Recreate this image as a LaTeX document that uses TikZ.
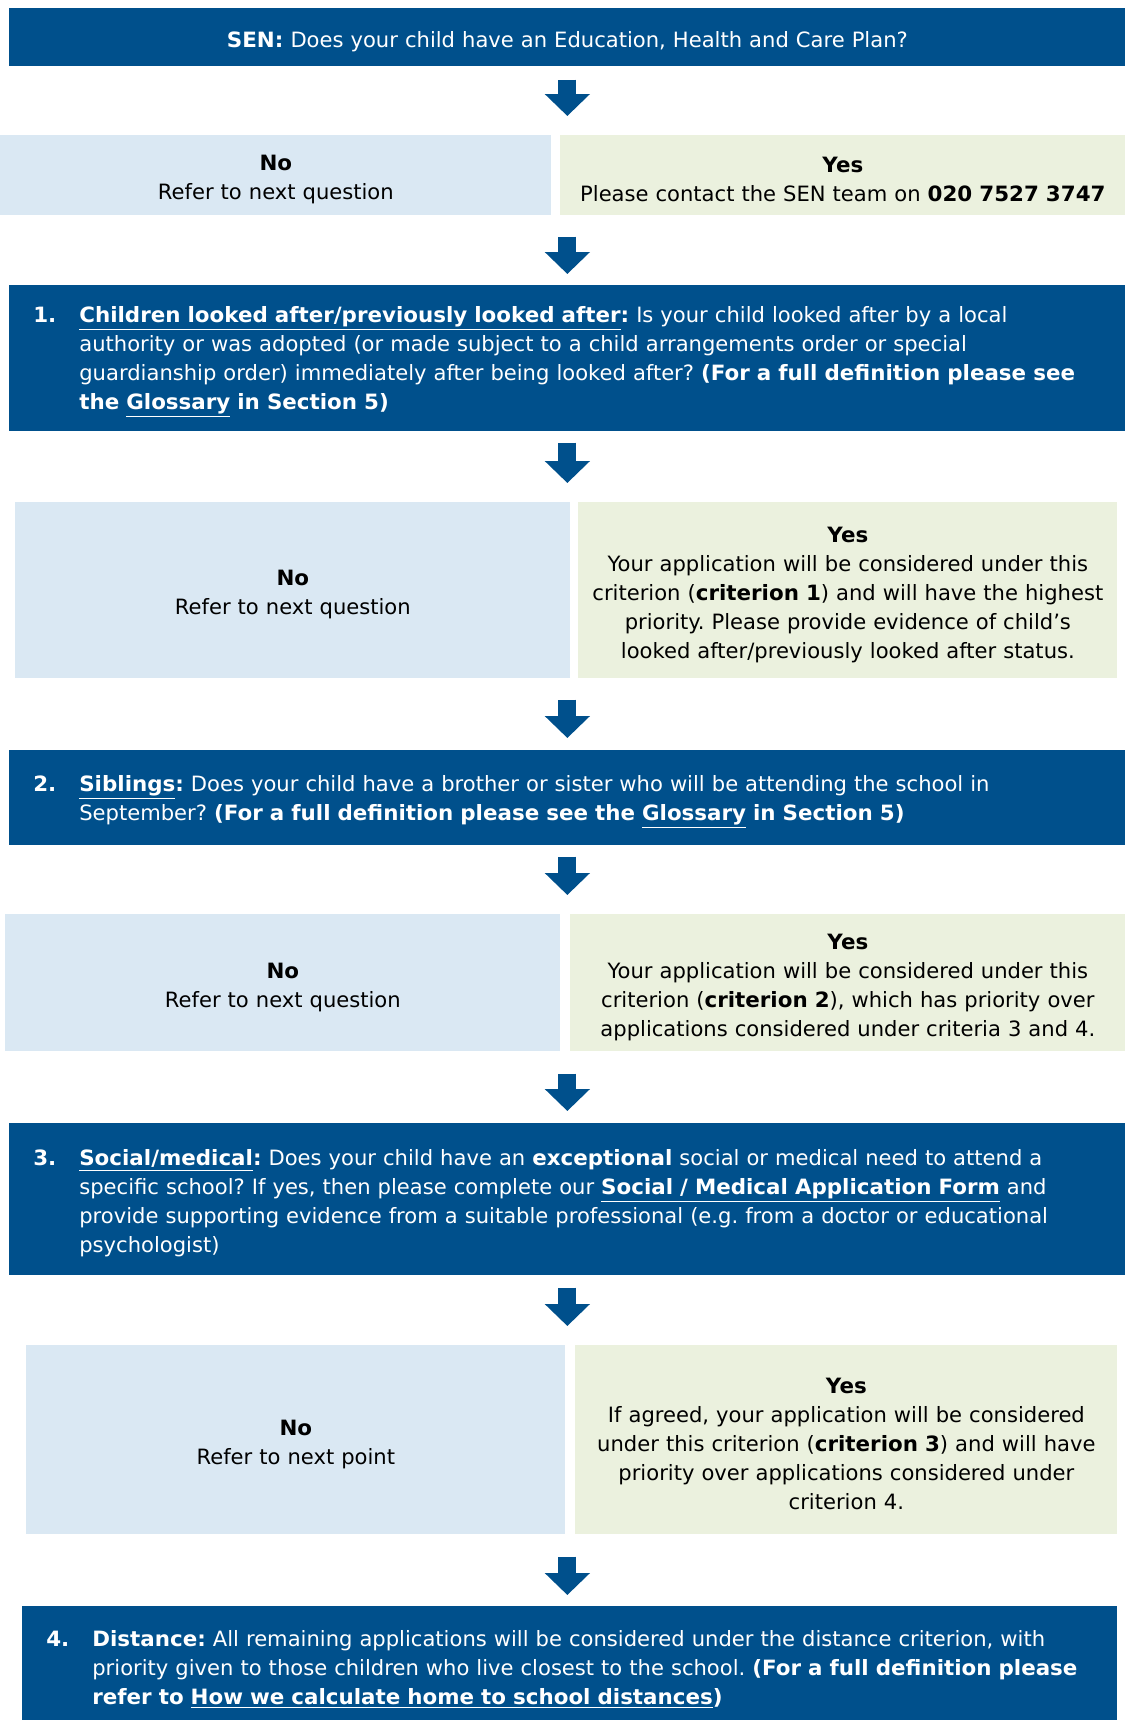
\documentclass[tikz,border=0pt]{standalone}
\usepackage{fontspec}
\setmainfont{DejaVu Sans}[BoldFeatures={FakeStretch=1.015}]
\usetikzlibrary{arrows.meta}

\definecolor{senblue}{RGB}{0,80,140}
\definecolor{nofill}{RGB}{218,232,243}
\definecolor{yesfill}{RGB}{235,241,222}
\newlength{\pxu}
\setlength{\pxu}{0.02cm}

\begin{document}
\begin{tikzpicture}[x=\pxu, y=-\pxu,
    font=\fontsize{12pt}{16.5pt}\selectfont\frenchspacing,
    qbox/.style={fill=senblue, text=white, anchor=north west, align=left, inner xsep=24\pxu, inner ysep=0pt, execute at begin node={\rule{0pt}{13.5pt}}},
    nobox/.style={fill=nofill, anchor=north west, align=center, inner xsep=4\pxu, inner ysep=0pt, execute at begin node={\rule{0pt}{13.5pt}}},
    yesbox/.style={fill=yesfill, anchor=north west, align=center, inner xsep=4\pxu, inner ysep=0pt, execute at begin node={\rule{0pt}{13.5pt}}},
    flow/.style={draw=senblue, line width=0.36cm, -{Triangle[length=0.44cm, width=0.88cm]}}]
    \useasboundingbox (0,0) rectangle (1126,1720);

    % SEN
    \node[qbox, align=center, text width=1068\pxu, minimum width=1116\pxu, minimum height=58\pxu] (sen) at (9,8)
        {\textbf{SEN:} Does your child have an Education, Health and Care Plan?};
    \node[nobox, text width=543\pxu, minimum width=551\pxu, minimum height=80\pxu] (no0) at (0,135)
        {\textbf{No}\\Refer to next question};
    \node[yesbox, text width=557\pxu, minimum width=565\pxu, minimum height=80\pxu] (yes0) at (560,135)
        {\textbf{Yes}\\Please contact the SEN team on \textbf{020 7527 3747}};

    % 1. looked after
    \node[qbox, text width=1068\pxu, minimum width=1116\pxu, minimum height=146\pxu] (q1) at (9,285)
        {\noindent\hangindent=46\pxu\hangafter=1\makebox[46\pxu][l]{\textbf{1.}}\textbf{\underline{Children looked after/previously looked after}:} Is your child looked after by a local\newline
        authority or was adopted (or made subject to a child arrangements order or special\newline
        guardianship order) immediately after being looked after? \textbf{(For a full definition please see}\newline
        \textbf{the \underline{Glossary} in Section 5)}\par};
    \node[nobox, text width=547\pxu, minimum width=555\pxu, minimum height=176\pxu] (no1) at (15,502)
        {\textbf{No}\\Refer to next question};
    \node[yesbox, text width=531\pxu, minimum width=539\pxu, minimum height=176\pxu] (yes1) at (578,502)
        {\textbf{Yes}\\Your application will be considered under this\\criterion (\textbf{criterion 1}) and will have the highest\\priority. Please provide evidence of child’s\\looked after/previously looked after status.};

    % 2. siblings
    \node[qbox, text width=1068\pxu, minimum width=1116\pxu, minimum height=95\pxu] (q2) at (9,750)
        {\noindent\hangindent=46\pxu\hangafter=1\makebox[46\pxu][l]{\textbf{2.}}\textbf{\underline{Siblings}:} Does your child have a brother or sister who will be attending the school in\newline
        September? \textbf{(For a full definition please see the \underline{Glossary} in Section 5)}\par};
    \node[nobox, text width=547\pxu, minimum width=555\pxu, minimum height=137\pxu] (no2) at (5,914)
        {\textbf{No}\\Refer to next question};
    \node[yesbox, text width=547\pxu, minimum width=555\pxu, minimum height=137\pxu] (yes2) at (570,914)
        {\textbf{Yes}\\Your application will be considered under this\\criterion (\textbf{criterion 2}), which has priority over\\applications considered under criteria 3 and 4.};

    % 3. social/medical
    \node[qbox, text width=1068\pxu, minimum width=1116\pxu, minimum height=152\pxu] (q3) at (9,1123)
        {\noindent\hangindent=46\pxu\hangafter=1\makebox[46\pxu][l]{\textbf{3.}}\textbf{\underline{Social/medical}:} Does your child have an \textbf{exceptional} social or medical need to attend a\newline
        specific school? If yes, then please complete our \textbf{\underline{Social / Medical Application Form}} and\newline
        provide supporting evidence from a suitable professional (e.g. from a doctor or educational\newline
        psychologist)\par};
    \node[nobox, text width=531\pxu, minimum width=539\pxu, minimum height=189\pxu] (no3) at (26,1345)
        {\textbf{No}\\Refer to next point};
    \node[yesbox, text width=534\pxu, minimum width=542\pxu, minimum height=189\pxu] (yes3) at (575,1345)
        {\textbf{Yes}\\If agreed, your application will be considered\\under this criterion (\textbf{criterion 3}) and will have\\priority over applications considered under\\criterion 4.};

    % 4. distance
    \node[qbox, text width=1047\pxu, minimum width=1095\pxu, minimum height=119\pxu] (q4) at (22,1606)
        {\noindent\hangindent=46\pxu\hangafter=1\makebox[46\pxu][l]{\textbf{4.}}\textbf{Distance:} All remaining applications will be considered under the distance criterion, with\newline
        priority given to those children who live closest to the school. \textbf{(For a full definition please}\newline
        \textbf{refer to \underline{How we calculate home to school distances})}\par};

    % arrows
    \draw[flow, shorten <=0.26cm, shorten >=0.38cm] (sen.south) -- (no0.north -| sen.south);
    \draw[flow, shorten <=0.42cm, shorten >=0.22cm] (no0.south -| sen.south) -- (q1.north -| sen.south);
    \draw[flow, shorten <=0.22cm, shorten >=0.38cm] (q1.south -| sen.south) -- (no1.north -| sen.south);
    \draw[flow, shorten <=0.42cm, shorten >=0.24cm] (no1.south -| sen.south) -- (q2.north -| sen.south);
    \draw[flow, shorten <=0.22cm, shorten >=0.38cm] (q2.south -| sen.south) -- (no2.north -| sen.south);
    \draw[flow, shorten <=0.44cm, shorten >=0.24cm] (no2.south -| sen.south) -- (q3.north -| sen.south);
    \draw[flow, shorten <=0.24cm, shorten >=0.38cm] (q3.south -| sen.south) -- (no3.north -| sen.south);
    \draw[flow, shorten <=0.44cm, shorten >=0.22cm] (no3.south -| sen.south) -- (q4.north -| sen.south);

\end{tikzpicture}
\end{document}
